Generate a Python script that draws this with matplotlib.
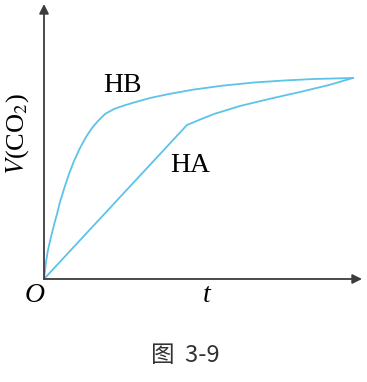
import matplotlib
matplotlib.use('Agg')
import matplotlib.pyplot as plt

plt.rcParams['font.family'] = ['Liberation Serif', 'DejaVu Serif']
plt.rcParams['mathtext.fontset'] = 'stix'

# datos (unidades arbitrarias)
t_hb = [0, 2, 4, 7, 10, 13, 16, 20, 25, 30, 36, 42, 48, 54, 61, 70, 80, 90,
        106, 125, 150, 180, 210, 240, 270, 309]
v_hb = [0, 17, 29, 42, 54, 65, 77, 90, 105, 118, 131, 142, 151, 158, 165,
        170, 173.5, 176.5, 181, 185, 189.5, 193.5, 196.5, 198.5, 200, 201]
t_ha = [0, 143, 155, 170, 196, 225, 256, 285, 309]
v_ha = [0, 154, 159, 165, 173, 180, 187, 194, 201]

curve_color = '#5cc3ea'
axis_color = '#3c3c3c'

fig = plt.figure(figsize=(3.67, 3.82), dpi=100)
# ejes en pixeles: x 44..362, y 4..279
ax = fig.add_axes([44 / 367, (382 - 279) / 382, 318 / 367, 275 / 382])
ax.set_xlim(0, 318)
ax.set_ylim(0, 275)
ax.axis('off')

ax.plot(t_hb, v_hb, color=curve_color, lw=1.3)
ax.plot(t_ha, v_ha, color=curve_color, lw=1.3)

# ejes con flechas
ax.annotate('', xy=(318, 0), xytext=(0, 0),
            arrowprops=dict(arrowstyle='-|>', color=axis_color, lw=1.3,
                            mutation_scale=14, shrinkA=0, shrinkB=0))
ax.annotate('', xy=(0, 275), xytext=(0, 0),
            arrowprops=dict(arrowstyle='-|>', color=axis_color, lw=1.3,
                            mutation_scale=14, shrinkA=0, shrinkB=0))

ax.text(78, 194, 'HB', fontsize=20, ha='center', va='center')
ax.text(146, 114, 'HA', fontsize=20, ha='center', va='center')

# textos en coordenadas de figura
fig.text(35 / 367, 1 - 296 / 382, 'O', fontsize=20, style='italic',
         ha='center', va='center')
fig.text(207 / 367, 1 - 295 / 382, 't', fontsize=20, style='italic',
         ha='center', va='center')
fig.text(18 / 367, 1 - 134 / 382, r'$V$(CO$_2$)', fontsize=19,
         rotation=90, ha='center', va='center')
fig.text(185 / 367, 1 - 355 / 382, '图  3-9', fontsize=17,
         family=['Noto Sans CJK SC', 'DejaVu Sans'], color='#333333',
         ha='center', va='center')

fig.savefig('out.png', dpi=100)
